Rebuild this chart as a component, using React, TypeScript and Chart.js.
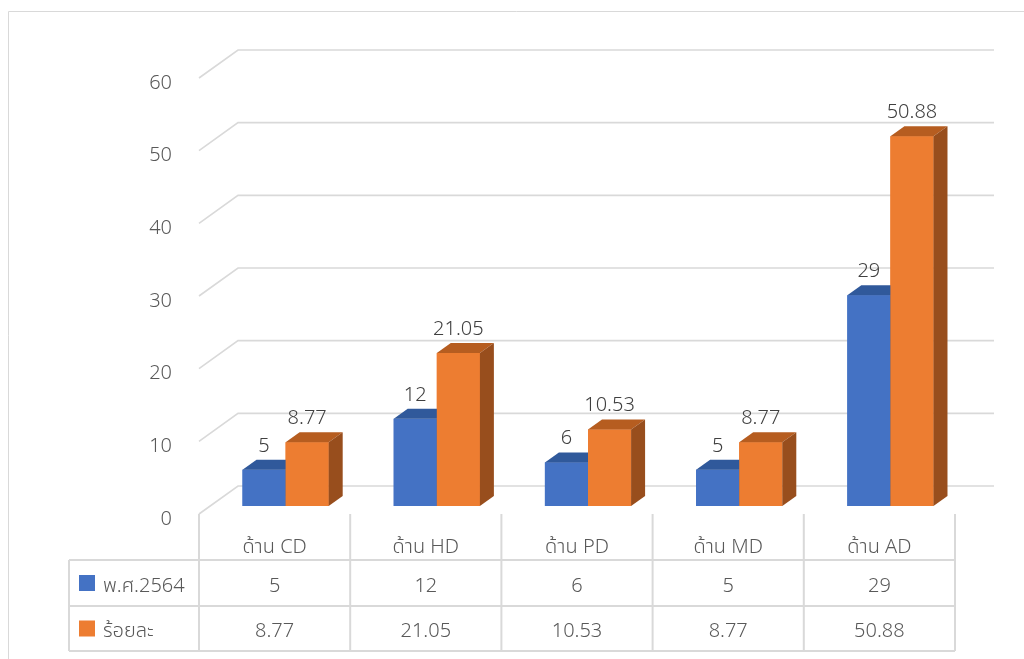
import React, { useEffect, useRef } from 'react';
import { Chart, registerables } from 'chart.js';

Chart.register(...registerables);

const categories = ['ด้าน CD', 'ด้าน HD', 'ด้าน PD', 'ด้าน MD', 'ด้าน AD'];
const seriesNames = ['พ.ศ.2564', 'ร้อยละ'];
const countValues = [5, 12, 6, 5, 29];
const percentValues = [8.77, 21.05, 10.53, 8.77, 50.88];
const yTicks = [0, 10, 20, 30, 40, 50, 60];

const FONT = "'Noto Sans', 'Noto Sans Thai', 'Leelawadee UI', Tahoma, sans-serif";
const TEXT = '#595959';
const GRID = '#d9d9d9';
const BACK_DX = 28;
const BACK_DY = -20;
const FRONT_DX = -11;
const FRONT_DY = 8;
const BAR_DX = 14;
const BAR_DY = -10;

const faceColors = [
  { front: '#4472C4', top: '#30599B', side: '#29497F' },
  { front: '#ED7D31', top: '#B65D20', side: '#984E1D' },
];

const allSeries = [countValues, percentValues];

const excel3d = {
  id: 'excel3d',
  beforeDatasetsDraw(chart: any) {
    const ctx = chart.ctx;
    const { left, right } = chart.chartArea;
    const ys = chart.scales.y;
    ctx.save();
    ctx.strokeStyle = GRID;
    ctx.lineWidth = 1.6;
    yTicks.forEach((v) => {
      const yb = ys.getPixelForValue(v);
      ctx.beginPath();
      ctx.moveTo(left + FRONT_DX, yb + FRONT_DY);
      ctx.lineTo(left + BACK_DX, yb + BACK_DY);
      ctx.lineTo(right + BACK_DX, yb + BACK_DY);
      ctx.stroke();
    });
    ctx.fillStyle = TEXT;
    ctx.font = `300 20px ${FONT}`;
    ctx.textAlign = 'right';
    ctx.textBaseline = 'middle';
    yTicks.forEach((v) => {
      const yb = ys.getPixelForValue(v);
      ctx.fillText(String(v), left - 38, yb + FRONT_DY + 5);
    });
    ctx.restore();
  },
  afterDatasetsDraw(chart: any) {
    const ctx = chart.ctx;
    ctx.save();
    chart.data.datasets.forEach((ds: any, di: number) => {
      const colors = faceColors[di];
      const meta = chart.getDatasetMeta(di);
      meta.data.forEach((bar: any) => {
        const { x, y, base, width } = bar.getProps(['x', 'y', 'base', 'width'], true);
        const l = x - width / 2;
        const r = x + width / 2;
        ctx.fillStyle = colors.front;
        ctx.fillRect(l, y, width, base - y);
        ctx.fillStyle = colors.top;
        ctx.beginPath();
        ctx.moveTo(l, y);
        ctx.lineTo(r, y);
        ctx.lineTo(r + BAR_DX, y + BAR_DY);
        ctx.lineTo(l + BAR_DX, y + BAR_DY);
        ctx.closePath();
        ctx.fill();
        ctx.fillStyle = colors.side;
        ctx.beginPath();
        ctx.moveTo(r, y);
        ctx.lineTo(r + BAR_DX, y + BAR_DY);
        ctx.lineTo(r + BAR_DX, base + BAR_DY);
        ctx.lineTo(r, base);
        ctx.closePath();
        ctx.fill();
      });
    });
    ctx.fillStyle = '#404040';
    ctx.font = `300 20px ${FONT}`;
    ctx.textAlign = 'center';
    ctx.textBaseline = 'alphabetic';
    chart.data.datasets.forEach((ds: any, di: number) => {
      const meta = chart.getDatasetMeta(di);
      meta.data.forEach((bar: any, i: number) => {
        const { x, y } = bar.getProps(['x', 'y'], true);
        ctx.fillText(String(ds.data[i]), x, y + BAR_DY - 8);
      });
    });
    ctx.restore();
  },
  afterDraw(chart: any) {
    const ctx = chart.ctx;
    const xs = chart.scales.x;
    const ys = chart.scales.y;
    const { left, right } = chart.chartArea;
    const y0 = ys.getPixelForValue(0) + FRONT_DY;
    const x0 = left + FRONT_DX;
    const x1 = right + FRONT_DX;
    const colW = (x1 - x0) / categories.length;
    const rowTop1 = y0 + 46;
    const rowTop2 = y0 + 92;
    const rowBottom = y0 + 137;
    const tableLeft = 69;
    ctx.save();
    ctx.strokeStyle = GRID;
    ctx.lineWidth = 1;
    ctx.beginPath();
    ctx.moveTo(8.5, 700);
    ctx.lineTo(8.5, 11.5);
    ctx.lineTo(1030, 11.5);
    ctx.stroke();
    ctx.lineWidth = 2;
    ctx.beginPath();
    for (let c = 0; c <= categories.length; c++) {
      const cx = x0 + c * colW;
      ctx.moveTo(cx, y0);
      ctx.lineTo(cx, rowBottom);
    }
    ctx.moveTo(tableLeft, rowTop1);
    ctx.lineTo(tableLeft, rowBottom);
    [rowTop1, rowTop2, rowBottom].forEach((ry) => {
      ctx.moveTo(tableLeft, ry);
      ctx.lineTo(x1, ry);
    });
    ctx.stroke();
    ctx.fillStyle = TEXT;
    ctx.font = `300 20px ${FONT}`;
    ctx.textAlign = 'center';
    ctx.textBaseline = 'middle';
    categories.forEach((cat, i) => {
      const cx = xs.getPixelForValue(i) + FRONT_DX;
      ctx.fillText(cat, cx, y0 + 33);
    });
    const rows = [
      [rowTop1, rowTop2],
      [rowTop2, rowBottom],
    ];
    allSeries.forEach((vals, si) => {
      const cy = (rows[si][0] + rows[si][1]) / 2;
      vals.forEach((v, i) => {
        const cx = xs.getPixelForValue(i) + FRONT_DX;
        ctx.fillStyle = TEXT;
        ctx.textAlign = 'center';
        ctx.fillText(String(v), cx, cy + 3);
      });
      ctx.fillStyle = faceColors[si].front;
      ctx.fillRect(tableLeft + 10, cy - 8, 16, 16);
      ctx.fillStyle = TEXT;
      ctx.textAlign = 'left';
      ctx.fillText(seriesNames[si], tableLeft + 34, cy + 3);
    });
    ctx.restore();
  },
};

export default function App() {
  const canvasRef = useRef<HTMLCanvasElement | null>(null);
  useEffect(() => {
    if (!canvasRef.current) return;
    const chart = new Chart(canvasRef.current, {
      type: 'bar',
      data: {
        labels: categories,
        datasets: [
          {
            label: seriesNames[0],
            data: countValues,
            backgroundColor: faceColors[0].front,
            borderWidth: 0,
          },
          {
            label: seriesNames[1],
            data: percentValues,
            backgroundColor: faceColors[1].front,
            borderWidth: 0,
          },
        ],
      },
      options: {
        responsive: false,
        maintainAspectRatio: false,
        animation: false,
        devicePixelRatio: 1,
        layout: { padding: { left: 210, right: 58, top: 70, bottom: 153 } },
        datasets: { bar: { barPercentage: 1, categoryPercentage: 0.57 } },
        plugins: { legend: { display: false }, tooltip: { enabled: false } },
        scales: {
          x: { display: false },
          y: { display: false, min: 0, max: 60 },
        },
      },
      plugins: [excel3d],
    });
    return () => chart.destroy();
  }, []);
  return (
    <div style={{ position: 'absolute', left: 0, top: 0, width: 1024, height: 659, background: '#fff' }}>
      <canvas ref={canvasRef} width={1024} height={659} style={{ display: 'block' }} />
    </div>
  );
}
